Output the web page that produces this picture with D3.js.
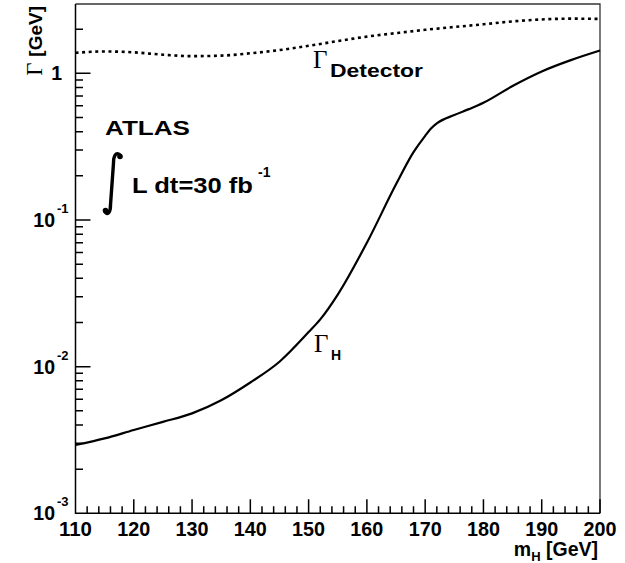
<!DOCTYPE html>
<html><head><meta charset="utf-8">
<script src="https://cdn.jsdelivr.net/npm/d3@7"></script>
<style>body{margin:0;background:#fff}svg{display:block}</style>
</head><body>
<script>
// ---- data ----
const massH = [110,115,120,125,130,135,140,145,150,152,155,160,165,168,170,171,172,175,177.5,180,185,190,195,200];
const widthH = [0.00292,0.00324,0.0037,0.0042,0.0048,0.0059,0.0078,0.0108,0.0172,0.021,0.031,0.070,0.175,0.29,0.375,0.42,0.455,0.52,0.57,0.63,0.82,1.03,1.23,1.43];
const massDet = [110,115,120,125,130,135,140,145,150,155,160,165,170,175,180,185,190,195,200];
const widthDet = [1.38,1.41,1.39,1.34,1.31,1.32,1.37,1.44,1.54,1.66,1.78,1.88,1.98,2.07,2.16,2.26,2.33,2.36,2.35];
const xMajorTicks = [110,120,130,140,150,160,170,180,190,200];
const xMinorTicks = [112,114,116,118,122,124,126,128,132,134,136,138,142,144,146,148,152,154,156,158,162,164,166,168,172,174,176,178,182,184,186,188,192,194,196,198];
const yDecades = [0.001,0.01,0.1,1];
const yMinorTicks = [0.002,0.003,0.004,0.005,0.006,0.007,0.008,0.009,0.02,0.03,0.04,0.05,0.06,0.07,0.08,0.09,0.2,0.3,0.4,0.5,0.6,0.7,0.8,0.9,2];
const yDecadeLabels = [["10","-3"],["10","-2"],["10","-1"],["1",""]];

const W=625,H=563;
const svg=d3.select("body").append("svg").attr("width",W).attr("height",H);
const x=d3.scaleLinear().domain([110,200]).range([75.5,600]);
const y=d3.scaleLog().domain([0.001,2.97]).range([513.3,4]);

const SANS="'Liberation Sans',Arial,Helvetica,sans-serif";
const SERIF="'Liberation Serif','Times New Roman',serif";
const xLeft=x(110), yBottom=y(0.001), yTop=y(2.97), xRight=x(200);

// frame top/right
svg.append("path").attr("d",`M${xLeft},${yTop}H${xRight}V${yBottom}`)
  .attr("fill","none").attr("stroke","#333").attr("stroke-width",1.3);

// axis lines + ticks in one path
let axisD=`M${xLeft},${yTop}V${yBottom}H${xRight}`;
xMajorTicks.forEach(v=>{axisD+=`M${x(v)},${yBottom}v-14`;});
xMinorTicks.forEach(v=>{axisD+=`M${x(v)},${yBottom}v-7`;});
yDecades.forEach(v=>{axisD+=`M${xLeft},${y(v)}h15`;});
yMinorTicks.forEach(v=>{axisD+=`M${xLeft},${y(v)}h7.5`;});
svg.append("path").attr("d",axisD)
  .attr("fill","none").attr("stroke","#000").attr("stroke-width",1.5);

svg.append("g").selectAll("text").data(xMajorTicks).join("text")
  .attr("x",d=>x(d)).attr("y",535.5).attr("text-anchor","middle")
  .attr("font-family",SANS).attr("font-weight","bold").attr("font-size",19.5)
  .attr("textLength",33).attr("lengthAdjust","spacingAndGlyphs")
  .text(d=>d);

const yl=svg.append("g").selectAll("g").data(yDecades).join("g");
yl.append("text").attr("x",(d,i)=>i===3?62:55).attr("y",d=>y(d)+7)
  .attr("text-anchor","end").attr("font-family",SANS).attr("font-weight","bold").attr("font-size",19.5)
  .text((d,i)=>yDecadeLabels[i][0]);
yl.append("text").attr("x",57).attr("y",d=>y(d)-7)
  .attr("font-family",SANS).attr("font-weight","bold").attr("font-size",13)
  .text((d,i)=>yDecadeLabels[i][1]);

// curves
const line=d3.line().x(d=>x(d[0])).y(d=>y(d[1])).curve(d3.curveMonotoneX);
svg.append("path").datum(massH.map((m,i)=>[m,widthH[i]])).attr("d",line)
  .attr("fill","none").attr("stroke","#000").attr("stroke-width",2.2);
svg.append("path").datum(massDet.map((m,i)=>[m,widthDet[i]])).attr("d",line)
  .attr("fill","none").attr("stroke","#000").attr("stroke-width",2.6).attr("stroke-dasharray","3,3.6");

// curve labels
svg.append("text").attr("x",313).attr("y",68).attr("font-family",SERIF).attr("font-size",25).text("Γ");
svg.append("text").attr("x",330).attr("y",77).attr("font-family",SANS).attr("font-weight","bold").attr("font-size",18)
  .attr("textLength",93).attr("lengthAdjust","spacingAndGlyphs").text("Detector");
svg.append("text").attr("x",314).attr("y",352).attr("font-family",SERIF).attr("font-size",25).text("Γ");
svg.append("text").attr("x",331).attr("y",360).attr("font-family",SANS).attr("font-weight","bold").attr("font-size",14).text("H");

// ATLAS label
svg.append("text").attr("x",105).attr("y",135).attr("font-family",SANS).attr("font-weight","bold").attr("font-size",21)
  .attr("textLength",85).attr("lengthAdjust","spacingAndGlyphs").text("ATLAS");
svg.append("path").attr("d","M120,155 C116,151 113.5,156 113.5,163 L110.5,205 C110.5,212 108,216 105,212")
  .attr("fill","none").attr("stroke","#000").attr("stroke-width",3.4).attr("stroke-linecap","round");
svg.append("circle").attr("cx",120).attr("cy",156.5).attr("r",2.8);
svg.append("circle").attr("cx",105.5).attr("cy",210.5).attr("r",2.8);
svg.append("text").attr("x",132).attr("y",193).attr("font-family",SANS).attr("font-weight","bold").attr("font-size",22)
  .attr("textLength",121).attr("lengthAdjust","spacingAndGlyphs").text("L dt=30 fb");
svg.append("text").attr("x",258).attr("y",177).attr("font-family",SANS).attr("font-weight","bold").attr("font-size",14).text("-1");

// axis titles
const ytt=svg.append("text").attr("transform","translate(42,6) rotate(-90)").attr("text-anchor","end");
ytt.append("tspan").attr("font-family",SERIF).attr("font-size",23).text("Γ ");
ytt.append("tspan").attr("font-family",SANS).attr("font-weight","bold").attr("font-size",19).text("[GeV]");
const xtt=svg.append("text").attr("x",598).attr("y",556).attr("text-anchor","end")
  .attr("font-family",SANS).attr("font-weight","bold").attr("font-size",19.5);
xtt.append("tspan").text("m");
xtt.append("tspan").attr("font-size",13).attr("dy",5).text("H");
xtt.append("tspan").attr("dy",-5).text(" [GeV]");
</script>
</body></html>
